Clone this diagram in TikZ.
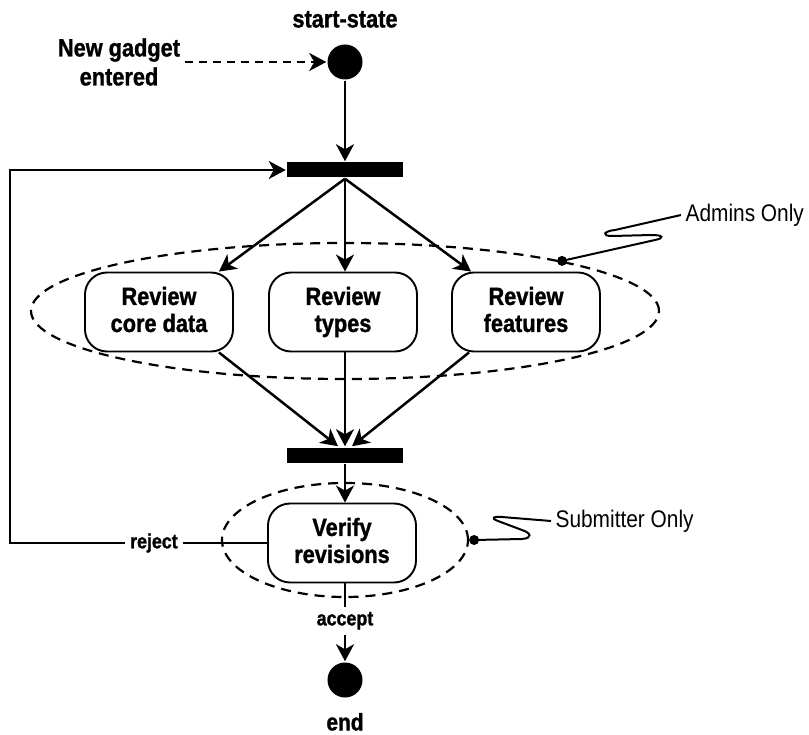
\documentclass[tikz,border=0pt]{standalone}
\usepackage{fontspec}
\setmainfont{Liberation Sans}[FakeStretch=0.87,BoldFeatures={FakeBold=1.2}]
\usetikzlibrary{arrows.meta}
\usetikzlibrary{positioning}
\usetikzlibrary{shapes.geometric}

\begin{document}
\begin{tikzpicture}[x=1pt,y=-1pt,>={Stealth[length=17pt,width=18pt,inset=5pt]},
  line width=2.5pt,
  activity node/.style={rectangle,rounded corners=22pt,draw,line width=1.9pt,
    minimum width=148pt,minimum height=79pt,align=center,
    font=\fontsize{25}{27}\selectfont\bfseries,
    execute at begin node={\rule{0pt}{30pt}},execute at end node={\vphantom{y}}},
  bar node/.style={rectangle,fill=black,minimum width=116pt,minimum height=15pt,inner sep=0pt},
  state node/.style={circle,fill=black,minimum size=35pt,inner sep=0pt},
  zone node/.style={ellipse,draw,dash pattern=on 10pt off 7pt,line width=2.2pt,inner sep=0pt},
  big label/.style={font=\fontsize{25}{29}\selectfont\bfseries,align=center},
  note label/.style={font=\fontsize{24}{26}\selectfont,anchor=west},
  flow label/.style={font=\fontsize{20.5}{22}\selectfont\bfseries,fill=white,inner sep=5pt},
  note line/.style={line width=2pt}]

  \useasboundingbox (0,0) rectangle (809,735);

  % groups
  \node[zone node,minimum width=628pt,minimum height=136pt] (adminzone) at (345,311) {};
  \node[zone node,minimum width=246pt,minimum height=114pt] (submitzone) at (345,540) {};

  \node[state node] (start) at (345,62) {};
  \node[big label] (startlabel) [above=11pt of start] {start-state};
  \node[big label] (input) at (119,62) {New gadget\\entered};

  \node[bar node] (fork) at (345,170) {};
  \node[activity node] (coredata) at (159,312) {Review\\core data};
  \node[activity node] (types) at (343,312) {Review\\types};
  \node[activity node] (features) at (526,312) {Review\\features};
  \node[bar node] (join) at (345,455) {};
  \node[activity node] (verify) at (342,543) {Verify\\revisions};
  \node[state node] (final) at (345,680) {};
  \node[big label,font=\fontsize{24}{26}\selectfont\bfseries,inner sep=1pt] (endlabel) [below=12pt of final] {end};

  \node[note label] (adminlabel) at (681,215) {Admins Only};
  \node[note label] (submitlabel) at (551,521) {Submitter Only};

  \coordinate (loopcorner) at (10,543);

  \draw[->,dash pattern=on 8pt off 6pt] (input) -- (start);
  \draw[->] (start) -- (fork);
  \draw[->] (fork.south) -- ([xshift=-15pt]coredata.north east);
  \draw[->] (fork.south) -- (types.north -| fork);
  \draw[->] (fork.south) -- ([xshift=20pt]features.north west);
  \draw[->] ([xshift=-15pt]coredata.south east) -- ([xshift=-7pt]join.north);
  \draw[->] (types.south -| join) -- (join.north);
  \draw[->] ([xshift=18pt]features.south west) -- ([xshift=7pt]join.north);
  \draw[->] (join) -- (verify.north -| join);
  \draw[->] (verify.west) -- node[flow label,pos=0.44] {reject} (loopcorner) |- (fork.west);
  \draw[->] (verify.south -| final) -- node[flow label,pos=0.48] {accept} (final.north);

  % notes
  \fill (adminzone.13) circle[radius=5pt];
  \draw[note line] (adminzone.13) -- (655,240) .. controls (665,238) and (663,235) .. (652,235)
    -- (612,236) .. controls (601,236) and (604,231) .. (615,230) -- (adminlabel.west);
  \fill ([xshift=5pt]submitzone.east) circle[radius=5pt];
  \draw[note line] ([xshift=5pt]submitzone.east) -- (522,539) .. controls (533,538) and (531,533) .. (522,530)
    -- (498,521) .. controls (490,518) and (494,516) .. (502,517) -- (submitlabel.west);
\end{tikzpicture}
\end{document}
